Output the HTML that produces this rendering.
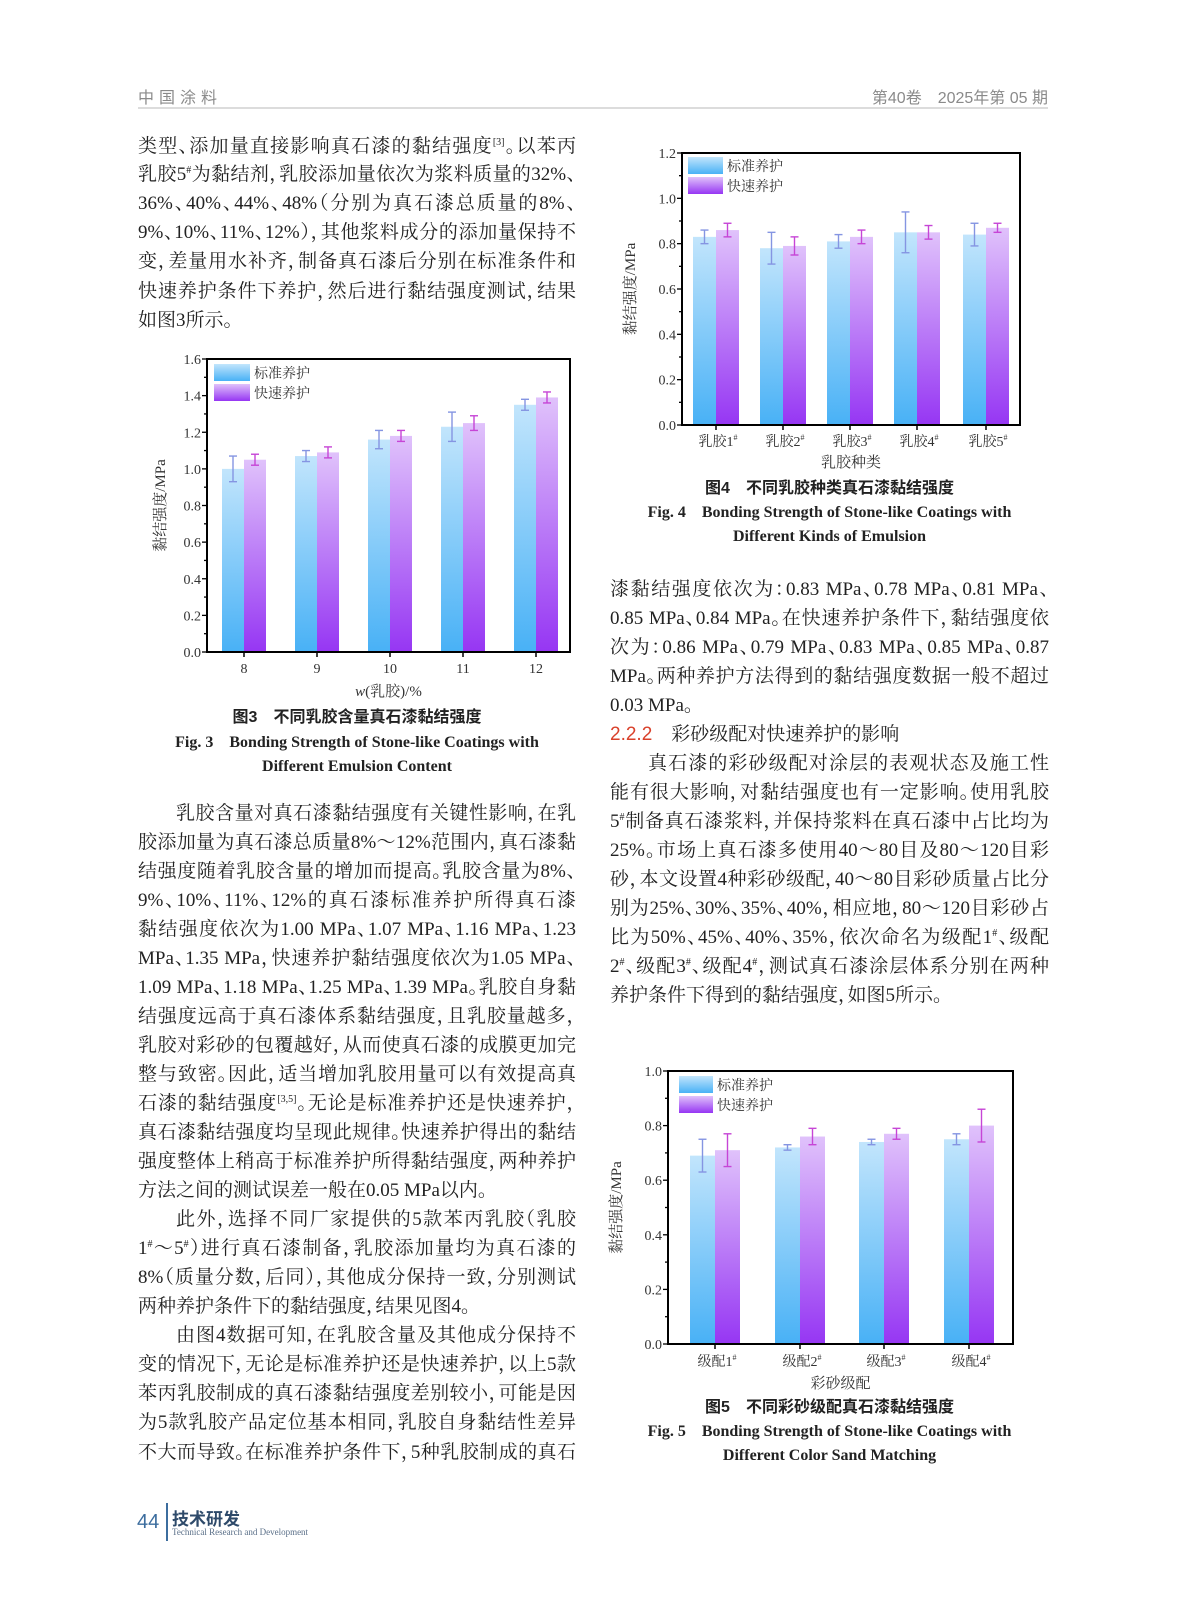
<!DOCTYPE html>
<html><head><meta charset="utf-8">
<style>
html,body{margin:0;padding:0;background:#fff;}
body{width:1187px;height:1600px;position:relative;overflow:hidden;font-family:"Liberation Serif","Noto Serif CJK SC",serif;color:#222;}
.l{position:absolute;height:29px;line-height:29px;font-size:19px;white-space:nowrap;text-align:justify;text-align-last:justify;font-feature-settings:"halt";}
.L{left:138px;width:438px;}
.R{left:610px;width:439px;}
.n{text-align-last:left;}
sup{font-size:10px;line-height:0;vertical-align:7px;}
.cap{position:absolute;text-align:center;white-space:nowrap;font-weight:bold;line-height:20px;}
.cz{font-family:"Liberation Sans","Noto Sans CJK SC",sans-serif;font-size:16px;}
.ce{font-family:"Liberation Serif",serif;font-size:16px;}
</style></head><body>
<div style="position:absolute;left:138px;top:84px;font-family:'Liberation Sans','Noto Sans CJK SC',sans-serif;font-size:16px;color:#8a8a8a;letter-spacing:5px;">中国涂料</div>
<div style="position:absolute;right:139px;top:84px;font-family:'Liberation Sans','Noto Sans CJK SC',sans-serif;font-size:16px;color:#8a8a8a;">第40卷　2025年第 05 期</div>
<div style="position:absolute;left:138px;top:107px;width:910px;height:2px;background:#dcdcdc;"></div>

<div class="l L" style="top:132px">类型、添加量直接影响真石漆的黏结强度<sup>[3]</sup>。以苯丙</div>
<div class="l L" style="top:160px">乳胶5<sup>#</sup>为黏结剂，乳胶添加量依次为浆料质量的32%、</div>
<div class="l L" style="top:189px">36%、40%、44%、48%（分别为真石漆总质量的8%、</div>
<div class="l L" style="top:218px">9%、10%、11%、12%），其他浆料成分的添加量保持不</div>
<div class="l L" style="top:247px">变，差量用水补齐，制备真石漆后分别在标准条件和</div>
<div class="l L" style="top:277px">快速养护条件下养护，然后进行黏结强度测试，结果</div>
<div class="l L n" style="top:306px">如图3所示。</div>

<div class="cap cz" style="left:138px;width:438px;top:708px;">图3　不同乳胶含量真石漆黏结强度</div>
<div class="cap ce" style="left:138px;width:438px;top:733px;">Fig. 3　Bonding Strength of Stone-like Coatings with</div>
<div class="cap ce" style="left:138px;width:438px;top:757px;">Different Emulsion Content</div>

<div class="l L" style="top:799px;left:176px;width:400px">乳胶含量对真石漆黏结强度有关键性影响，在乳</div>
<div class="l L" style="top:828px">胶添加量为真石漆总质量8%～12%范围内，真石漆黏</div>
<div class="l L" style="top:857px">结强度随着乳胶含量的增加而提高。乳胶含量为8%、</div>
<div class="l L" style="top:886px">9%、10%、11%、12%的真石漆标准养护所得真石漆</div>
<div class="l L" style="top:915px">黏结强度依次为1.00 MPa、1.07 MPa、1.16 MPa、1.23</div>
<div class="l L" style="top:944px">MPa、1.35 MPa，快速养护黏结强度依次为1.05 MPa、</div>
<div class="l L" style="top:973px">1.09 MPa、1.18 MPa、1.25 MPa、1.39 MPa。乳胶自身黏</div>
<div class="l L" style="top:1002px">结强度远高于真石漆体系黏结强度，且乳胶量越多，</div>
<div class="l L" style="top:1031px">乳胶对彩砂的包覆越好，从而使真石漆的成膜更加完</div>
<div class="l L" style="top:1060px">整与致密。因此，适当增加乳胶用量可以有效提高真</div>
<div class="l L" style="top:1089px">石漆的黏结强度<sup>[3,5]</sup>。无论是标准养护还是快速养护，</div>
<div class="l L" style="top:1118px">真石漆黏结强度均呈现此规律。快速养护得出的黏结</div>
<div class="l L" style="top:1147px">强度整体上稍高于标准养护所得黏结强度，两种养护</div>
<div class="l L n" style="top:1176px">方法之间的测试误差一般在0.05 MPa以内。</div>
<div class="l L" style="top:1205px;left:176px;width:400px">此外，选择不同厂家提供的5款苯丙乳胶（乳胶</div>
<div class="l L" style="top:1234px">1<sup>#</sup>～5<sup>#</sup>）进行真石漆制备，乳胶添加量均为真石漆的</div>
<div class="l L" style="top:1263px">8%（质量分数，后同），其他成分保持一致，分别测试</div>
<div class="l L n" style="top:1292px">两种养护条件下的黏结强度，结果见图4。</div>
<div class="l L" style="top:1321px;left:176px;width:400px">由图4数据可知，在乳胶含量及其他成分保持不</div>
<div class="l L" style="top:1350px">变的情况下，无论是标准养护还是快速养护，以上5款</div>
<div class="l L" style="top:1379px">苯丙乳胶制成的真石漆黏结强度差别较小，可能是因</div>
<div class="l L" style="top:1408px">为5款乳胶产品定位基本相同，乳胶自身黏结性差异</div>
<div class="l L" style="top:1438px">不大而导致。在标准养护条件下，5种乳胶制成的真石</div>

<div class="cap cz" style="left:610px;width:439px;top:479px;">图4　不同乳胶种类真石漆黏结强度</div>
<div class="cap ce" style="left:610px;width:439px;top:503px;">Fig. 4　Bonding Strength of Stone-like Coatings with</div>
<div class="cap ce" style="left:610px;width:439px;top:527px;">Different Kinds of Emulsion</div>

<div class="l R" style="top:575px">漆黏结强度依次为：0.83 MPa、0.78 MPa、0.81 MPa、</div>
<div class="l R" style="top:604px">0.85 MPa、0.84 MPa。在快速养护条件下，黏结强度依</div>
<div class="l R" style="top:633px">次为：0.86 MPa、0.79 MPa、0.83 MPa、0.85 MPa、0.87</div>
<div class="l R" style="top:662px">MPa。两种养护方法得到的黏结强度数据一般不超过</div>
<div class="l R n" style="top:691px">0.03 MPa。</div>
<div class="l R n" style="top:720px"><span style="color:#d9412b;font-family:'Liberation Sans',sans-serif;">2.2.2</span>　彩砂级配对快速养护的影响</div>
<div class="l R" style="top:749px;left:648px;width:401px">真石漆的彩砂级配对涂层的表观状态及施工性</div>
<div class="l R" style="top:778px">能有很大影响，对黏结强度也有一定影响。使用乳胶</div>
<div class="l R" style="top:807px">5<sup>#</sup>制备真石漆浆料，并保持浆料在真石漆中占比均为</div>
<div class="l R" style="top:836px">25%。市场上真石漆多使用40～80目及80～120目彩</div>
<div class="l R" style="top:865px">砂，本文设置4种彩砂级配，40～80目彩砂质量占比分</div>
<div class="l R" style="top:894px">别为25%、30%、35%、40%，相应地，80～120目彩砂占</div>
<div class="l R" style="top:923px">比为50%、45%、40%、35%，依次命名为级配1<sup>#</sup>、级配</div>
<div class="l R" style="top:952px">2<sup>#</sup>、级配3<sup>#</sup>、级配4<sup>#</sup>，测试真石漆涂层体系分别在两种</div>
<div class="l R n" style="top:981px">养护条件下得到的黏结强度，如图5所示。</div>

<div class="cap cz" style="left:610px;width:439px;top:1398px;">图5　不同彩砂级配真石漆黏结强度</div>
<div class="cap ce" style="left:610px;width:439px;top:1422px;">Fig. 5　Bonding Strength of Stone-like Coatings with</div>
<div class="cap ce" style="left:610px;width:439px;top:1446px;">Different Color Sand Matching</div>

<div style="position:absolute;left:137px;top:1511px;font-family:'Liberation Sans',sans-serif;font-size:20px;color:#3c6d9e;">44</div>
<div style="position:absolute;left:166px;top:1503px;width:2px;height:38px;background:#3c6d9e;"></div>
<div style="position:absolute;left:172px;top:1505px;font-family:'Liberation Sans','Noto Sans CJK SC',sans-serif;font-size:17px;font-weight:bold;color:#2e4a6a;">技术研发</div>
<div style="position:absolute;left:172px;top:1527px;font-family:'Liberation Serif',serif;font-size:9px;color:#5a6f88;">Technical Research and Development</div>

<svg id="s" width="1187" height="1600" style="position:absolute;left:0;top:0" xmlns="http://www.w3.org/2000/svg">
<defs>
<linearGradient id="gb" x1="0" y1="0" x2="0" y2="1"><stop offset="0" stop-color="#c2e5fc"/><stop offset="1" stop-color="#48b1f6"/></linearGradient>
<linearGradient id="gp" x1="0" y1="0" x2="0" y2="1"><stop offset="0" stop-color="#e0c2fb"/><stop offset="1" stop-color="#9636f3"/></linearGradient>
</defs>
</svg>
<script>
var S=document.getElementById('s'),NS='http://www.w3.org/2000/svg';
var FF='Liberation Serif, Noto Serif CJK SC, serif';
function el(t,a,txt){var e=document.createElementNS(NS,t);for(var k in a)e.setAttribute(k,a[k]);if(txt!=null)e.textContent=txt;S.appendChild(e);return e;}
function ts(p,txt,a){var e=document.createElementNS(NS,'tspan');for(var k in (a||{}))e.setAttribute(k,a[k]);e.textContent=txt;p.appendChild(e);return e;}
function chart(c){
 var Y=function(v){return c.b-(c.b-c.t)*v/c.ymax;};
 for(var i=0;i<c.cx.length;i++){
  var x=c.cx[i],w=c.bw;
  el('rect',{x:x-w,y:Y(c.v1[i]),width:w,height:c.b-Y(c.v1[i]),fill:'url(#gb)'});
  el('rect',{x:x,y:Y(c.v2[i]),width:w,height:c.b-Y(c.v2[i]),fill:'url(#gp)'});
  [[x-w/2,c.v1[i],c.e1[i],'#8595e2'],[x+w/2,c.v2[i],c.e2[i],'#c645d6']].forEach(function(q){
   var y1=Y(q[1]+q[2]),y2=Y(q[1]-q[2]);
   el('line',{x1:q[0],x2:q[0],y1:y1,y2:y2,stroke:q[3],'stroke-width':1.4});
   el('line',{x1:q[0]-4,x2:q[0]+4,y1:y1,y2:y1,stroke:q[3],'stroke-width':1.4});
   el('line',{x1:q[0]-4,x2:q[0]+4,y1:y2,y2:y2,stroke:q[3],'stroke-width':1.4});
  });
  el('line',{x1:x,x2:x,y1:c.b,y2:c.b+5,stroke:'#000','stroke-width':1.5});
  var lab=c.lab[i],t=el('text',{x:x+(lab.indexOf('#')>=0?2:0),y:c.ly,'text-anchor':'middle','font-size':14,'font-family':FF,fill:'#333'});
  if(lab.indexOf('#')>=0){ts(t,lab.replace('#',''));ts(t,'#',{'font-size':8,dy:-6});}else t.textContent=lab;
 }
 el('rect',{x:c.l,y:c.t,width:c.r-c.l,height:c.b-c.t,fill:'none',stroke:'#000','stroke-width':2});
 for(var v=0;v<=c.ymax+1e-9;v+=c.step/2){
  var y=Y(v),maj=Math.abs(v/c.step-Math.round(v/c.step))<1e-6;
  el('line',{x1:c.l-(maj?5:3),x2:c.l,y1:y,y2:y,stroke:'#000','stroke-width':1.3});
  if(maj)el('text',{x:c.l-6,y:y+5,'text-anchor':'end','font-size':14,'font-family':'Liberation Serif, serif',fill:'#333'},v.toFixed(1));
 }
 el('text',{x:c.yx,y:(c.t+c.b)/2,'text-anchor':'middle','font-size':15,'font-family':FF,fill:'#333',transform:'rotate(-90 '+c.yx+' '+(c.t+c.b)/2+')'},'黏结强度/MPa');
 var xt=el('text',{x:(c.l+c.r)/2,y:c.xy,'text-anchor':'middle','font-size':15,'font-family':FF,fill:'#333'});
 if(c.italic){ts(xt,'w',{'font-style':'italic'});ts(xt,'(乳胶)/%');}else xt.textContent=c.xl;
 var g=c.leg;
 el('rect',{x:g[0],y:g[1],width:g[2],height:17,fill:'url(#gb)'});
 el('rect',{x:g[0],y:g[1]+20,width:g[2],height:17,fill:'url(#gp)'});
 el('text',{x:g[0]+g[2]+4,y:g[1]+14,'font-size':14,'font-family':FF,fill:'#333'},'标准养护');
 el('text',{x:g[0]+g[2]+4,y:g[1]+34,'font-size':14,'font-family':FF,fill:'#333'},'快速养护');
}
chart({l:207,r:570,t:359,b:652,ymax:1.6,step:0.2,cx:[244,317,390,463,536],bw:22,
 v1:[1.00,1.07,1.16,1.23,1.35],v2:[1.05,1.09,1.18,1.25,1.39],e1:[.07,.03,.05,.08,.03],e2:[.03,.03,.03,.04,.03],
 lab:['8','9','10','11','12'],ly:673,xl:'w(乳胶)/%',italic:true,xy:696,yx:165,leg:[214,364,36]});
chart({l:682,r:1020,t:153,b:425,ymax:1.2,step:0.2,cx:[716,783,850,917,986],bw:23,
 v1:[.83,.78,.81,.85,.84],v2:[.86,.79,.83,.85,.87],e1:[.03,.07,.03,.09,.05],e2:[.03,.04,.03,.03,.02],
 lab:['乳胶1#','乳胶2#','乳胶3#','乳胶4#','乳胶5#'],ly:446,xl:'乳胶种类',xy:467,yx:635,leg:[688,157,35]});
chart({l:668,r:1013,t:1071,b:1344,ymax:1.0,step:0.2,cx:[715,800,884,969],bw:25,
 v1:[.69,.72,.74,.75],v2:[.71,.76,.77,.80],e1:[.06,.01,.01,.02],e2:[.06,.03,.02,.06],
 lab:['级配1#','级配2#','级配3#','级配4#'],ly:1366,xl:'彩砂级配',xy:1388,yx:621,leg:[679,1076,34]});
</script>
</body></html>
